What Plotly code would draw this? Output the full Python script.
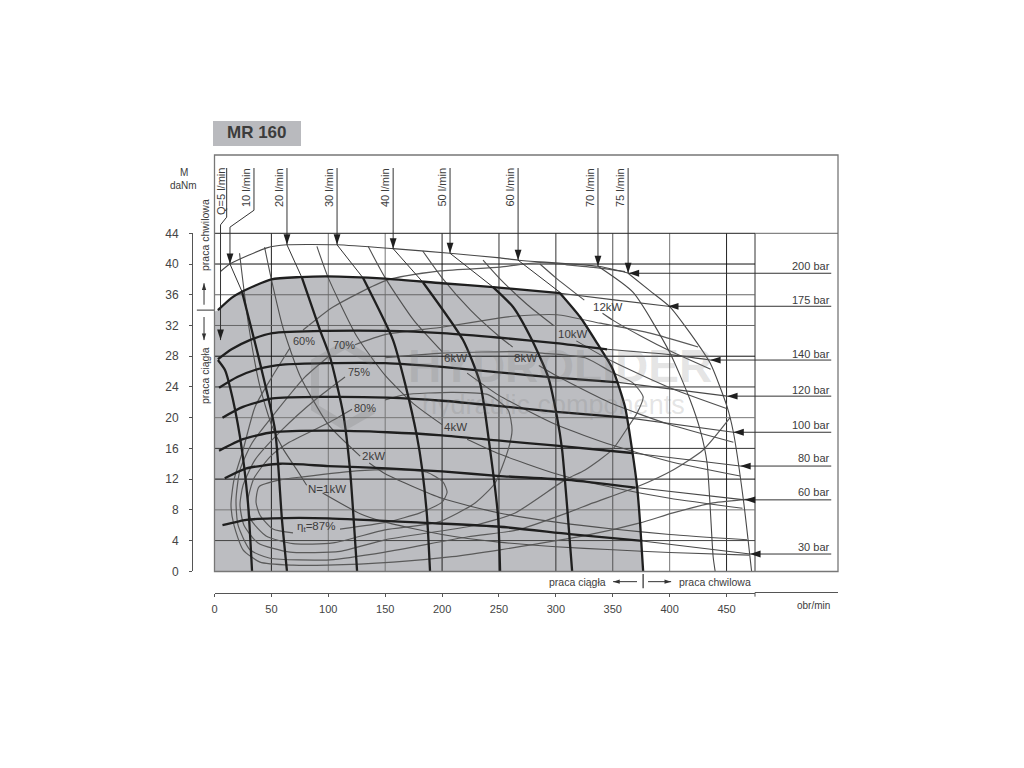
import plotly.graph_objects as go

# Characteristic of hydraulic motor MR 160, (obr/min, daNm)

x_ticks = [0, 50, 100, 150, 200, 250, 300, 350, 400, 450]
x_tick_labels = ["0", "50", "100", "150", "200", "250", "300", "350", "400", "450"]
y_ticks = [0, 4, 8, 12, 16, 20, 24, 28, 32, 36, 40, 44]

grid_x = [50, 100, 150, 200, 250, 300, 350, 400, 450, 475]
grid_x_colors = ["#222", "#777", "#777", "#222", "#333", "#333", "#555", "#777", "#222", "#333"]
grid_y = [4, 8, 12, 16, 20, 24, 28, 32, 36, 40, 44]
grid_y_colors = ["#444", "#777", "#111", "#333", "#777", "#333", "#111", "#666", "#666", "#111", "#222"]

# continuous duty pressure curves (thick) with their thin intermittent part
p175 = [(3, 34), (15, 35.6), (24, 36.4), (50, 38), (75, 38.3), (99, 38.4), (150, 38.1), (200, 37.5), (245, 37), (303.7, 36.2)]
p175_thin = [(303.7, 36.2), (353, 35.3), (398.6, 34.5)]
p140 = [(3, 27.6), (15, 28.9), (31, 30.1), (51, 31), (99, 31.3), (152, 31.3), (200, 31), (251, 30.4), (300, 29.7), (345, 28.9)]
p140_thin = [(345, 28.9), (400, 28.2), (435.6, 27.5)]
p120 = [(4, 23.9), (20, 25.3), (40, 26.4), (60, 26.9), (99, 27.1), (150, 27.1), (200, 26.6), (250, 25.9), (300, 25.2), (355, 24.6)]
p120_thin = [(355, 24.6), (450.5, 22.8)]
p100 = [(7, 20), (25, 21.4), (51, 22.5), (99, 22.7), (152, 22.6), (200, 22.2), (251, 21.5), (298, 20.8), (362, 20)]
p100_thin = [(362, 20), (456, 18.1)]
p80 = [(4, 15.7), (25, 17.2), (51, 18.1), (99, 18.3), (152, 18.1), (200, 17.7), (251, 17), (298, 16.4), (367, 15.4)]
p80_thin = [(367, 15.4), (462, 13.7)]
p60 = [(9, 12.1), (28, 13.4), (58, 14), (100, 13.7), (152, 13.4), (200, 13), (251, 12.4), (310, 11.9), (370, 10.9)]
p60_thin = [(370, 10.9), (466, 9.3)]
p30 = [(7, 6), (28, 6.7), (51, 6.9), (100, 6.9), (187, 6.3), (251, 5.8), (312, 4.85), (376, 3.95)]
p30_thin = [(376, 3.95), (470.7, 2.25)]
p200_thin = [(5, 39), (13.6, 40), (46, 42.1), (63.7, 42.5), (107.7, 42.5), (157, 42), (207, 41.4), (251, 40.8), (267, 40.5), (337, 39.7), (364, 38.8)]

# flow curves, thick below the 175 bar curve
q5 = [(3, 27.5), (9.2, 26.2), (13.6, 24), (22.4, 17.5), (29.4, 8.9), (33, 0)]
q10 = [(24.2, 36.4), (40, 27.1), (53.2, 18.4), (59.3, 6.7), (63.7, 0)]
q20 = [(76.9, 38.2), (92.7, 31.4), (101.5, 27.9), (113, 20.6), (119.1, 13.2), (125.3, 0)]
q30 = [(130.5, 38.2), (156.9, 30.1), (167.4, 24.5), (178, 17.5), (182.4, 13.4), (186.8, 7.1), (189.4, 0)]
q40 = [(183.3, 37.6), (218.4, 30.1), (233.4, 24.5), (242.2, 15.8), (249.2, 7.1), (251, 0)]
q50 = [(244.8, 37), (262.4, 34.4), (279, 30.1), (293.2, 25.3), (301, 20.1), (305.5, 15.8), (309.9, 8.4), (314.3, 0)]
q60 = [(303.7, 36.2), (321.3, 33.1), (336.2, 29.7), (349.4, 26.5), (360.8, 21.4), (367, 15.8), (371.4, 11), (374, 6.3), (376.7, 0)]
q70 = [(337, 39.7), (367.9, 36.3), (400.4, 28.4), (418, 22.3), (426.8, 18.4), (432.9, 14.1), (438.2, 1.9), (440, 0)]
q75 = [(363.5, 38.8), (382.8, 36.5), (400.4, 34.4), (418, 31), (435.6, 27.1), (450.5, 21.4), (456, 18.1), (464.8, 9.3), (472, 0)]

q_thin = [
    [(5.3, 30.1), (5.3, 45.1), (10.7, 46.1), (10.7, 52.5)],
    [(24.2, 36.4), (13.6, 40), (13.6, 44.8), (34.7, 47), (34.7, 52.5)],
    [(76.9, 38.2), (63.7, 42.5), (63.7, 52.5)],
    [(130.5, 38.2), (107.7, 42.5), (107.7, 52.5)],
    [(183.3, 37.6), (157, 42), (157, 52.5)],
    [(244.8, 37), (207, 41.4), (207, 52.5)],
    [(305.5, 36.1), (266.8, 40.5), (266.8, 52.5)],
    [(337, 39.7), (337, 52.5)],
    [(363.5, 38.8), (363.5, 52.5)],
]
q_tip_x = [5.3, 13.6, 63.7, 107.7, 157, 207, 266.8, 337, 363.5]
q_tip_y = [30.1, 40, 42.5, 42.5, 42, 41.4, 40.5, 39.7, 38.8]

# pressure leaders, from the curve end out to the label
bar_tip_x = [364, 398.6, 435.6, 450.5, 456, 462, 466, 470.7]
bar_tip_y = [38.8, 34.5, 27.5, 22.8, 18.1, 13.7, 9.3, 2.25]
bar_end_x = 542

# power curves, None leaves the gap for the label
n1kw = [(22, 41.4), (30, 32), (40, 24), (50, 19.1), (60, 16), (72, 13.3), (81, 11.2), (None, None), (95, 10.2), (128, 7.5), (150, 6.4), (200, 4.8), (250, 3.8), (300, 3.2), (350, 2.8), (400, 2.45), (470, 2.1)]
n2kw = [(44, 42.2), (50, 38), (60, 31.8), (75, 25.5), (100, 19.1), (128, 15), (None, None), (136, 14.1), (150, 12.7), (200, 9.5), (250, 7.6), (300, 6.4), (350, 5.5), (400, 4.8), (468, 4.1)]
n4kw = [(90, 42.3), (100, 38.2), (125, 30.6), (150, 25.5), (175, 21.8), (200, 19.1), (None, None), (222, 17.2), (250, 15.3), (300, 12.7), (350, 10.9), (400, 9.5), (464, 8.2)]
n6kw = [(135, 42.3), (150, 38.2), (175, 32.7), (200, 28.6), (None, None), (222, 25.8), (250, 22.9), (300, 19.1), (350, 16.4), (400, 14.3), (462, 12.4)]
n8kw = [(183, 41.7), (200, 38.2), (225, 34), (250, 30.6), (262, 29.2), (None, None), (285, 26.8), (300, 25.5), (350, 21.8), (400, 19.1), (456, 16.8)]
n10kw = [(236, 40.5), (250, 38.2), (275, 34.7), (298, 32), (None, None), (318, 30), (350, 27.3), (400, 23.9), (450, 21.2)]
n12kw = [(286, 40), (300, 38.2), (325, 35.3), (None, None), (341, 33.6), (350, 32.7), (375, 30.6), (400, 28.7), (436, 26.3)]

# efficiency contours
eta60 = [(360.8, 39), (337, 39.5), (309.8, 39.9), (286.1, 40.2), (251, 39.6), (198.2, 39.1), (151.6, 37.9), (104.2, 34.4), (77.8, 31.4), (None, None),
         (66.4, 29.1), (50.5, 25.3), (35.6, 21.4), (25.1, 15.8), (17.1, 11.9), (14.5, 8.6), (17.1, 6), (25.1, 2.8), (40, 1.2), (69, 0.8), (98.9, 0.8),
         (156.9, 1.2), (208.8, 1.9), (251, 2.8), (327.4, 4.7), (374, 6.3), (403, 7.6), (438.2, 8.9), (470.7, 9.4)]
eta70 = [(425, 29.2), (382.8, 31), (338.9, 32.3), (301, 33.4), (262.4, 33.2), (251, 33), (200.9, 31.8), (149.9, 30.8), (123.5, 29.5), (None, None),
         (99.8, 27.9), (79.6, 25.3), (50.5, 20.1), (33, 16.7), (22.4, 13.2), (18.9, 9.3), (20.7, 6), (31.2, 2.8), (48.8, 1.7), (101.5, 1.5), (149.9, 2.5),
         (222.8, 4.5), (266.8, 5.4), (309.8, 7.6), (332.7, 8.9), (371.4, 11), (403, 13.2), (429.4, 15.8), (453.1, 20)]
eta75 = [(149.9, 27.8), (200, 28.4), (266.8, 28.6), (287.9, 28.4), (325.7, 27.8), (349.4, 25.9), (367.9, 24.5), (376.7, 22.7), (371.4, 20.6), (363.5, 18.8),
         (349.4, 15.8), (325.7, 13.2), (308.1, 11.9), (264.2, 7.6), (229, 6), (149.9, 4.1), (110.3, 2.6), (66.4, 2.5), (38.2, 3.7), (25.9, 6), (22.4, 8.6),
         (25.1, 11.2), (35.6, 14.5), (59.3, 18.4), (88.3, 22.3), (114.7, 25.3)]
eta80 = [(149.9, 22.3), (167.5, 23), (208.8, 23.3), (240.4, 23), (258, 21), (261.5, 18.4), (258, 15.8), (246.6, 11.5), (229, 8.9), (196.5, 6.4), (149.9, 5.4),
         (104.2, 3.7), (69, 3.6), (45.3, 4.6), (32.1, 6.7), (29.4, 9.3), (34.7, 12.1), (48.8, 14.9), (64.6, 16.7), (99.8, 19.3), (120.9, 21.1)]
eta87 = [(110.3, 5.5), (151.6, 6.4), (180.6, 7.6), (200, 9), (204.4, 10.3), (200.9, 11.6), (186.8, 12.9), (163, 13.2), (127.9, 13.1), (77.8, 12.3), (57.6, 11.9),
         (39.1, 11), (36.5, 9), (40, 7.3), (51.4, 5.5), (69, 5)]

q_labels = ["Q=5 l/min", "10 l/min", "20 l/min", "30 l/min", "40 l/min", "50 l/min", "60 l/min", "70 l/min", "75 l/min"]
bar_labels = ["200 bar", "175 bar", "140 bar", "120 bar", "100 bar", "80 bar", "60 bar", "30 bar"]

FONT = "Liberation Sans"
TEXT = "#3c3c3c"
THICK = "#1f1f1f"
THIN = "#4d4d4d"
FILL = "#bcbdc1"

# the page has a default 8 px body margin
WIDTH, HEIGHT = 1008, 752

# where 0 and 475 obr/min, 0 and 44 daNm sit on the page
X0, X475, Y0, Y44 = 214.5, 755, 571.3, 233.3
PX_PER_X = (X475 - X0) / 475
PX_PER_Y = (Y0 - Y44) / 44


def pap_x(px):
    return (px - 8) / WIDTH


def pap_y(py):
    return 1 - (py - 8) / HEIGHT


def add_curve(fig, pts, color=THIN, width=1.1, shape="spline"):
    fig.add_trace(go.Scatter(x=[p[0] for p in pts], y=[p[1] for p in pts], mode="lines",
                             line=dict(color=color, width=width, shape=shape, smoothing=0.6),
                             hoverinfo="skip", showlegend=False))


def add_arrows(fig, xs, ys, angle, size=11, color=THICK):
    fig.add_trace(go.Scatter(x=xs, y=ys, mode="markers",
                             marker=dict(symbol="arrow", size=size, angle=angle, color=color, line=dict(width=0)),
                             hoverinfo="skip", showlegend=False))


def add_text(fig, text, px, py, size=11, angle=0, xanchor="center", yanchor="middle", color=TEXT, bold=False):
    fig.add_annotation(text=text, x=pap_x(px), y=pap_y(py), xref="paper", yref="paper", showarrow=False,
                       textangle=angle, xanchor=xanchor, yanchor=yanchor, borderpad=0,
                       font=dict(family=FONT, size=size, color=color, weight="bold" if bold else "normal"))


fig = go.Figure()

# grey continuous duty area
area = [(0, 0), (0, 33.8)] + p175 + q60
fig.add_trace(go.Scatter(x=[p[0] for p in area], y=[p[1] for p in area], mode="lines", fill="toself",
                         fillcolor=FILL, line=dict(width=0), hoverinfo="skip", showlegend=False))

# grid is drawn by hand so that it stays on top of the grey area
for val, col in zip(grid_x, grid_x_colors):
    add_curve(fig, [(val, 0), (val, 44)], color=col, width=1, shape="linear")
for val, col in zip(grid_y, grid_y_colors):
    add_curve(fig, [(0, val), (475, val)], color=col, width=1, shape="linear")

for curve in [eta60, eta70, eta75, eta80, eta87]:
    add_curve(fig, curve, color="#5a5a5a", width=1.2)
for curve in [n1kw, n2kw, n4kw, n6kw, n8kw, n10kw, n12kw]:
    add_curve(fig, curve, color="#505050", width=1.1)
for curve in [p200_thin, p175_thin, p140_thin, p120_thin, p100_thin, p80_thin, p60_thin, p30_thin, q70, q75]:
    add_curve(fig, curve, color="#484848", width=1.1)
for curve in q_thin:
    add_curve(fig, curve, color="#333", width=1, shape="linear")
for curve in [q5, q10, q20, q30, q40, q50, q60, p175, p140, p120, p100, p80, p60, p30]:
    add_curve(fig, curve, color=THICK, width=2.3)

# leaders to the bar labels
for tx, ty in zip(bar_tip_x, bar_tip_y):
    add_curve(fig, [(tx, ty), (bar_end_x, ty)], color="#333", width=1, shape="linear")
add_arrows(fig, bar_tip_x, bar_tip_y, 270)
add_arrows(fig, q_tip_x, q_tip_y, 180)

# duty markers along the axes
add_curve(fig, [(-15.5, 34), (0, 34)], color="#333", width=1, shape="linear")
add_curve(fig, [(-9.2, 34.7), (-9.2, 37.5)], color="#333", width=1, shape="linear")
add_curve(fig, [(-9.2, 33.1), (-9.2, 30.1)], color="#333", width=1, shape="linear")
add_arrows(fig, [-9.2], [37.5], 0, size=7, color="#333")
add_arrows(fig, [-9.2], [30.1], 180, size=7, color="#333")
add_curve(fig, [(371.3, -1.35), (350.3, -1.35)], color="#333", width=1, shape="linear")
add_curve(fig, [(381, -1.35), (401.3, -1.35)], color="#333", width=1, shape="linear")
add_arrows(fig, [350.3], [-1.35], 270, size=7, color="#333")
add_arrows(fig, [401.3], [-1.35], 90, size=7, color="#333")
add_curve(fig, [(376.7, -0.35), (376.7, -2.2)], color="#555", width=1.5, shape="linear")
# last speed mark has no number, so it is not an axis tick
add_curve(fig, [(475, -2.76), (475, -3.3)], color="#555", width=1, shape="linear")

# empty trace, keeps the visible axes alive on their own subplot
fig.add_trace(go.Scatter(x=[0], y=[0], xaxis="x2", yaxis="y2", mode="markers", opacity=0,
                         hoverinfo="skip", showlegend=False))

# frame and title box
fig.add_shape(type="rect", xref="paper", yref="paper", x0=pap_x(213), x1=pap_x(301), y0=pap_y(146), y1=pap_y(121),
              fillcolor="#b9babe", line_width=0, layer="below")
fig.add_shape(type="rect", xref="paper", yref="paper", x0=pap_x(214.5), x1=pap_x(838), y0=pap_y(571.5), y1=pap_y(155),
              line=dict(color="#777", width=1.3), layer="above")
fig.add_shape(type="line", xref="paper", yref="paper", x0=pap_x(755), x1=pap_x(838), y0=pap_y(233.3), y1=pap_y(233.3),
              line=dict(color="#666", width=1))
fig.add_shape(type="line", xref="paper", yref="paper", x0=pap_x(755), x1=pap_x(838), y0=pap_y(592.5), y1=pap_y(592.5),
              line=dict(color="#555", width=1))

# watermark
fig.add_shape(type="path", xref="paper", yref="paper", layer="above",
              path="M {} {} L {} {} L {} {} L {} {} L {} {} L {} {}".format(
                  pap_x(373), pap_y(362), pap_x(345), pap_y(345), pap_x(315), pap_y(362),
                  pap_x(315), pap_y(408), pap_x(345), pap_y(426), pap_x(373), pap_y(410)),
              line=dict(color="rgba(120,120,120,0.22)", width=8))
add_text(fig, "HYDROLIDER", 560, 366, size=46, color="rgba(120,120,120,0.2)", bold=True)
add_text(fig, "hydraulic components", 553, 405, size=27, color="rgba(120,120,120,0.2)")

add_text(fig, "MR 160", 257, 133, size=17, bold=True)
add_text(fig, "M", 184, 172, size=10)
add_text(fig, "daNm", 183, 185, size=10)
add_text(fig, "praca chwilowa", 205, 235, size=10.5, angle=-90)
add_text(fig, "praca ciągła", 205, 376, size=10.5, angle=-90)
add_text(fig, "obr/min", 813, 605, size=10)
add_text(fig, "praca ciągła", 577, 581.5, size=10.5)
add_text(fig, "praca chwilowa", 715, 581.5, size=10.5)

for label, px in zip(q_labels, [220.5, 245.5, 278.5, 328.5, 384.5, 441, 509, 589.5, 619.5]):
    add_text(fig, label, px, 167, size=11, angle=-90, yanchor="top")
for label, py in zip(bar_labels, [266, 300, 354, 390, 425, 458, 492, 547]):
    add_text(fig, label, 831, py, size=11, xanchor="right")

add_text(fig, "60%", 304, 341)
add_text(fig, "70%", 344, 345)
add_text(fig, "75%", 359, 372)
add_text(fig, "80%", 365, 408)
add_text(fig, "N=1kW", 327, 489, size=11.5)
add_text(fig, "2kW", 373, 456, size=11.5)
add_text(fig, "4kW", 455, 427, size=11.5)
add_text(fig, "6kW", 455, 358, size=11.5)
add_text(fig, "8kW", 525, 358, size=11.5)
add_text(fig, "10kW", 573, 334, size=11.5)
add_text(fig, "12kW", 608, 307, size=11.5)
add_text(fig, "η<sub>t</sub>=87%", 316, 527, size=11.5)

# hidden axes for the curves reach over the whole drawing, lines are cut at the axis range otherwise
DRAW_L, DRAW_R, DRAW_T, DRAW_B = 190, 840, 160, 600

fig.update_layout(
    width=WIDTH,
    height=HEIGHT,
    margin=dict(l=0, r=0, t=0, b=0, autoexpand=False),
    paper_bgcolor="white",
    plot_bgcolor="rgba(0,0,0,0)",
    showlegend=False,
    font=dict(family=FONT, color=TEXT),
    xaxis=dict(domain=[pap_x(DRAW_L), pap_x(DRAW_R)],
               range=[(DRAW_L - X0) / PX_PER_X, (DRAW_R - X0) / PX_PER_X], visible=False),
    yaxis=dict(domain=[pap_y(DRAW_B), pap_y(DRAW_T)],
               range=[(Y0 - DRAW_B) / PX_PER_Y, (Y0 - DRAW_T) / PX_PER_Y], visible=False),
    xaxis2=dict(domain=[pap_x(X0), pap_x(X475)], range=[0, 475], anchor="free", position=pap_y(592.5),
                tickmode="array", tickvals=x_ticks, ticktext=x_tick_labels, tickfont=dict(size=11, color="#444"),
                ticks="outside", ticklen=3, tickcolor="#555", showline=True, linecolor="#555", linewidth=1,
                showgrid=False, zeroline=False, ticklabelstandoff=3),
    yaxis2=dict(domain=[pap_y(Y0), pap_y(Y44)], range=[0, 44], anchor="free", position=pap_x(192),
                tickmode="array", tickvals=y_ticks, tickfont=dict(size=12, color="#444"),
                ticks="outside", ticklen=3, tickcolor="#555", showline=True, linecolor="#555", linewidth=1,
                showgrid=False, zeroline=False, ticklabelstandoff=8),
)

fig.write_html("out.html")
